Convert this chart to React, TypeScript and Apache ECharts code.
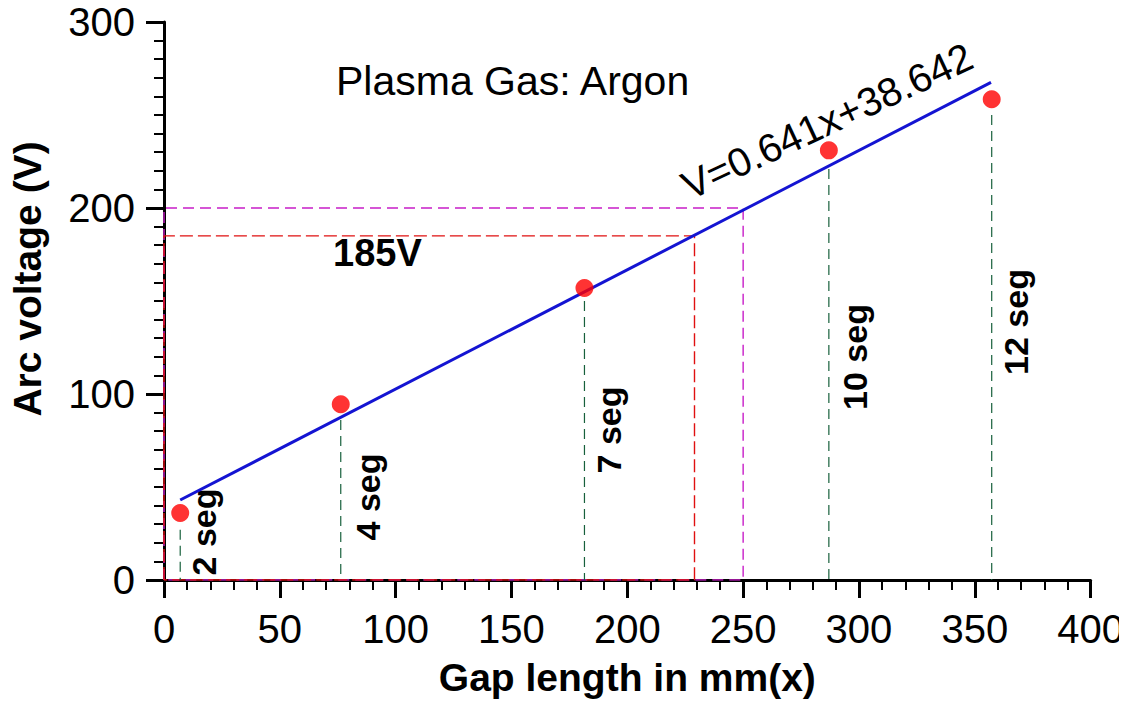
import React, { useEffect, useRef } from "react";
import * as echarts from "echarts";

// Measured points
const gapLength = [7, 76.3, 181.5, 287, 357.3];
const arcVoltage = [36, 94.5, 157, 231, 258.5];
const segLabels = ["2 seg", "4 seg", "7 seg", "10 seg", "12 seg"];
// top ends of the green guide lines (V)
const guideTop = [27, 86, 150, 221, 250];
// fit line end points
const fitX = [7, 357];
const fitV = [43, 267.5];
// guide boxes
const magentaX = [0, 0, 250, 250, 0];
const magentaV = [0, 200, 200, 0, 0];
const redX = [0, 0, 229, 229, 0];
const redV = [0, 185, 185, 0, 0];

const xMin = 0, xMax = 400, xStep = 50;
const yMin = 0, yMax = 300, yStep = 100;

const FONT = 'Arial, "Liberation Sans", sans-serif';

export default function App() {
  const ref = useRef<HTMLDivElement>(null);
  useEffect(() => {
    if (!ref.current) return;
    const chart = echarts.init(ref.current, undefined, { renderer: "svg" });
    const guideSeries = gapLength.map((x, i) => ({
      type: "line",
      data: [[x, guideTop[i]], [x, 0]],
      symbol: "none",
      lineStyle: { color: "#17603c", width: 1.2, type: [10, 6] },
      z: 1,
      silent: true,
    }));
    chart.setOption({
      animation: false,
      backgroundColor: "#ffffff",
      grid: { left: 164, right: 35, top: 22, bottom: 137 },
      xAxis: {
        type: "value",
        min: xMin, max: xMax, interval: xStep,
        name: "Gap length in mm(x)",
        nameLocation: "middle",
        nameGap: 78,
        nameTextStyle: { fontFamily: FONT, fontSize: 39, fontWeight: "bold", color: "#000" },
        axisLine: { show: true, onZero: false, lineStyle: { color: "#000", width: 3 } },
        axisTick: { show: true, inside: false, length: 18, lineStyle: { color: "#000", width: 3 } },
        minorTick: { show: true, splitNumber: 5, length: 10, lineStyle: { color: "#000", width: 2 } },
        axisLabel: { fontFamily: FONT, fontSize: 40, color: "#000", margin: 29 },
        splitLine: { show: false },
      },
      yAxis: {
        type: "value",
        min: yMin, max: yMax, interval: yStep,
        axisLine: { show: true, onZero: false, lineStyle: { color: "#000", width: 3 } },
        axisTick: { show: true, inside: false, length: 18, lineStyle: { color: "#000", width: 3 } },
        minorTick: { show: true, splitNumber: 10, length: 10, lineStyle: { color: "#000", width: 2 } },
        axisLabel: { fontFamily: FONT, fontSize: 40, color: "#000", margin: 29 },
        splitLine: { show: false },
      },
      series: [
        {
          type: "line",
          data: magentaX.map((x, i) => [x, magentaV[i]]),
          symbol: "none",
          lineStyle: { color: "#c81ec8", width: 1.4, type: [11, 6] },
          z: 1,
          silent: true,
        },
        {
          type: "line",
          data: redX.map((x, i) => [x, redV[i]]),
          symbol: "none",
          lineStyle: { color: "#e01010", width: 1.4, type: [13, 5] },
          z: 1,
          silent: true,
        },
        ...guideSeries,
        {
          type: "line",
          data: fitX.map((x, i) => [x, fitV[i]]),
          symbol: "none",
          lineStyle: { color: "#1414d2", width: 3 },
          z: 3,
        },
        {
          type: "scatter",
          data: gapLength.map((x, i) => [x, arcVoltage[i]]),
          symbol: "circle",
          symbolSize: 18,
          itemStyle: { color: "#ff0000" },
          z: 4,
        },
      ],
      graphic: [
        {
          type: "text", x: 27, y: 279, rotation: Math.PI / 2,
          style: { text: "Arc voltage (V)", font: `bold 39px ${FONT}`, fill: "#000", align: "center", verticalAlign: "middle" },
        },
        {
          type: "text", left: 336, top: 60,
          style: { text: "Plasma Gas: Argon", font: `41px ${FONT}`, fill: "#000" },
        },
        {
          type: "text", left: 333, top: 234,
          style: { text: "185V", font: `bold 38px ${FONT}`, fill: "#000" },
        },
        {
          type: "text", x: 827, y: 121, rotation: (25 * Math.PI) / 180,
          style: { text: "V=0.641x+38.642", font: `40px ${FONT}`, fill: "#000", align: "center", verticalAlign: "middle" },
        },
        ...[
          [204, 532], [368, 497], [609, 430], [855, 357], [1016, 322],
        ].map(([x, y], i) => ({
          type: "text", x, y, rotation: Math.PI / 2,
          style: { text: segLabels[i], font: `bold 34px ${FONT}`, fill: "#000", align: "center", verticalAlign: "middle" },
        })),
      ],
    });
    return () => chart.dispose();
  }, []);
  return <div ref={ref} style={{ width: 1127, height: 717, margin: -8 }} />;
}
